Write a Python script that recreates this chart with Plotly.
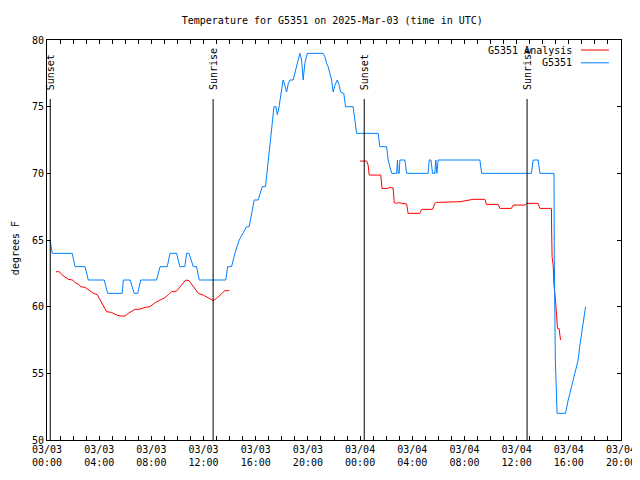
import plotly.graph_objects as go

title_text = "Temperature for G5351 on 2025-Mar-03 (time in UTC)"
y_title = "degrees F"
analysis_name = "G5351 Analysis"
obs_name = "G5351"

obs_times = [
    "2025-03-03 00:14", "2025-03-03 00:24", "2025-03-03 01:56", "2025-03-03 02:09",
    "2025-03-03 02:55", "2025-03-03 03:10", "2025-03-03 04:23", "2025-03-03 04:39",
    "2025-03-03 05:46", "2025-03-03 05:51", "2025-03-03 06:22", "2025-03-03 06:41",
    "2025-03-03 06:57", "2025-03-03 07:11", "2025-03-03 08:24", "2025-03-03 08:40",
    "2025-03-03 09:13", "2025-03-03 09:26", "2025-03-03 09:56", "2025-03-03 10:11",
    "2025-03-03 10:34", "2025-03-03 10:42", "2025-03-03 10:53", "2025-03-03 11:13",
    "2025-03-03 11:28", "2025-03-03 11:40", "2025-03-03 13:42", "2025-03-03 13:51",
    "2025-03-03 14:09", "2025-03-03 14:24", "2025-03-03 14:44", "2025-03-03 15:07",
    "2025-03-03 15:18", "2025-03-03 15:30", "2025-03-03 15:53", "2025-03-03 16:11",
    "2025-03-03 16:19", "2025-03-03 16:30", "2025-03-03 16:45", "2025-03-03 16:57",
    "2025-03-03 17:05", "2025-03-03 17:13", "2025-03-03 17:20", "2025-03-03 17:24",
    "2025-03-03 17:33", "2025-03-03 17:39", "2025-03-03 17:45", "2025-03-03 17:51",
    "2025-03-03 17:59", "2025-03-03 18:06", "2025-03-03 18:14", "2025-03-03 18:22",
    "2025-03-03 18:30", "2025-03-03 18:37", "2025-03-03 18:52", "2025-03-03 19:00",
    "2025-03-03 19:08", "2025-03-03 19:15", "2025-03-03 19:23", "2025-03-03 19:31",
    "2025-03-03 19:38", "2025-03-03 19:46", "2025-03-03 19:57", "2025-03-03 21:10",
    "2025-03-03 21:18", "2025-03-03 21:26", "2025-03-03 21:33", "2025-03-03 21:41",
    "2025-03-03 21:49", "2025-03-03 21:56", "2025-03-03 22:04", "2025-03-03 22:15",
    "2025-03-03 22:24", "2025-03-03 22:30", "2025-03-03 22:45", "2025-03-03 22:53",
    "2025-03-03 23:28", "2025-03-03 23:36", "2025-03-03 23:44", "2025-03-04 01:23",
    "2025-03-04 01:31", "2025-03-04 02:02", "2025-03-04 02:09", "2025-03-04 02:25",
    "2025-03-04 02:48", "2025-03-04 02:52", "2025-03-04 02:55", "2025-03-04 03:00",
    "2025-03-04 03:03", "2025-03-04 03:26", "2025-03-04 03:34", "2025-03-04 05:13",
    "2025-03-04 05:18", "2025-03-04 05:26", "2025-03-04 05:33", "2025-03-04 05:44",
    "2025-03-04 05:48", "2025-03-04 05:53", "2025-03-04 05:59", "2025-03-04 09:11",
    "2025-03-04 09:19", "2025-03-04 13:08", "2025-03-04 13:16", "2025-03-04 13:39",
    "2025-03-04 13:47", "2025-03-04 14:52", "2025-03-04 14:53", "2025-03-04 14:58",
    "2025-03-04 15:02", "2025-03-04 15:06", "2025-03-04 15:45", "2025-03-04 15:50",
    "2025-03-04 15:57", "2025-03-04 16:05", "2025-03-04 16:12", "2025-03-04 16:20",
    "2025-03-04 16:28", "2025-03-04 16:35", "2025-03-04 16:43", "2025-03-04 16:50",
    "2025-03-04 16:58", "2025-03-04 17:06", "2025-03-04 17:14", "2025-03-04 17:17",
]
obs_vals = [
    65, 64, 64, 63, 63, 62, 62, 61, 61, 62, 62, 61, 61, 62, 62, 63,
    63, 64, 64, 63, 63, 64, 64, 63, 63, 62, 62, 63, 63, 64, 65, 65.75,
    66, 66, 68, 68, 68.5, 69, 69, 70.75, 71.9, 73.25, 74, 75, 75, 74.4,
    74.75, 75.4, 76.1, 77, 76.6, 76.1, 76.75, 77, 77, 77.5, 78, 78.5, 79, 78.5,
    77, 78.25, 79, 79, 78.75, 78.25, 78, 77.5, 77, 76.1, 76.6, 77, 76.6, 76.1,
    76, 75, 75, 74, 73, 73, 72, 72, 71, 70, 70, 71, 70, 70,
    71, 71, 70, 70, 71, 71, 70, 70, 71, 70, 71, 71, 70, 70, 71, 71,
    70, 70, 64, 56, 53, 52, 52, 52.5, 53, 53.5, 54, 54.5, 55, 55.5, 56, 57,
    58, 58.9, 59.75, 60,
]

analysis_times = [
    "2025-03-03 00:41", "2025-03-03 00:57", "2025-03-03 01:08", "2025-03-03 01:23",
    "2025-03-03 01:38", "2025-03-03 01:58", "2025-03-03 02:09", "2025-03-03 02:24",
    "2025-03-03 02:35", "2025-03-03 02:55", "2025-03-03 03:10", "2025-03-03 03:33",
    "2025-03-03 03:51", "2025-03-03 04:04", "2025-03-03 04:19", "2025-03-03 04:34",
    "2025-03-03 04:57", "2025-03-03 05:13", "2025-03-03 05:36", "2025-03-03 05:59",
    "2025-03-03 06:14", "2025-03-03 06:29", "2025-03-03 06:45", "2025-03-03 07:08",
    "2025-03-03 07:31", "2025-03-03 07:54", "2025-03-03 08:17", "2025-03-03 08:40",
    "2025-03-03 09:02", "2025-03-03 09:18", "2025-03-03 09:33", "2025-03-03 09:56",
    "2025-03-03 10:11", "2025-03-03 10:27", "2025-03-03 10:38", "2025-03-03 10:53",
    "2025-03-03 11:13", "2025-03-03 11:36", "2025-03-03 11:59", "2025-03-03 12:22",
    "2025-03-03 12:45", "2025-03-03 13:00", "2025-03-03 13:23", "2025-03-03 13:38",
    "2025-03-03 13:58", "2025-03-03 18:00",
    "2025-03-03 23:59", "2025-03-04 00:30", "2025-03-04 00:37", "2025-03-04 00:42",
    "2025-03-04 01:35", "2025-03-04 01:41", "2025-03-04 02:09", "2025-03-04 02:14",
    "2025-03-04 02:32", "2025-03-04 02:37", "2025-03-04 02:48", "2025-03-04 02:55",
    "2025-03-04 03:34", "2025-03-04 03:41", "2025-03-04 04:35", "2025-03-04 04:43",
    "2025-03-04 05:33", "2025-03-04 05:44", "2025-03-04 05:52", "2025-03-04 07:39",
    "2025-03-04 08:40", "2025-03-04 09:34", "2025-03-04 09:41", "2025-03-04 10:35",
    "2025-03-04 10:43", "2025-03-04 11:36", "2025-03-04 11:44", "2025-03-04 12:38",
    "2025-03-04 12:46", "2025-03-04 13:39", "2025-03-04 13:47", "2025-03-04 14:40",
    "2025-03-04 14:41", "2025-03-04 14:43", "2025-03-04 14:48", "2025-03-04 14:52",
    "2025-03-04 15:00", "2025-03-04 15:03", "2025-03-04 15:08", "2025-03-04 15:15",
    "2025-03-04 15:18", "2025-03-04 15:22",
]
analysis_vals = [
    62.62, 62.62, 62.4, 62.25, 62.05, 62.0, 61.8, 61.7, 61.5, 61.45, 61.25, 61.0,
    60.9, 60.5, 60.05, 59.62, 59.57, 59.42, 59.3, 59.3, 59.5, 59.67, 59.8, 59.82,
    59.95, 60.0, 60.3, 60.5, 60.67, 60.9, 61.12, 61.17, 61.5, 61.8, 62.0, 61.95,
    61.5, 61.0, 60.87, 60.67, 60.45, 60.62, 61.0, 61.2, 61.2, None,
    70.92, 70.92, 70.62, 69.87, 69.87, 68.87, 68.87, 68.95, 68.9, 67.8, 67.75, 67.8,
    67.7, 67.0, 67.0, 67.3, 67.3, 67.75, 67.82, 67.87, 68.05, 68.05, 67.67, 67.67,
    67.37, 67.37, 67.62, 67.62, 67.75, 67.75, 67.37, 67.37, 65.75, 63.75, 63.12, 61.62,
    60.2, 59.0, 58.37, 58.37, 57.87, 57.5,
]

sun_times = ["2025-03-03 00:15", "2025-03-03 12:44", "2025-03-04 00:19", "2025-03-04 12:48"]
sun_labels = ["Sunset", "Sunrise", "Sunset", "Sunrise"]

x_range = ["2025-03-03 00:00", "2025-03-04 20:00"]
y_range = [50, 80]

FONT = "DejaVu Sans Mono"
RED = "#ff0000"
BLUE = "#0080ff"
HOUR_MS = 3600000

fig = go.Figure()
fig.add_trace(go.Scatter(x=analysis_times, y=analysis_vals, mode="lines",
                         name=analysis_name, line=dict(color=RED, width=1),
                         connectgaps=False))
fig.add_trace(go.Scatter(x=obs_times, y=obs_vals, mode="lines",
                         name=obs_name, line=dict(color=BLUE, width=1)))

shapes = []
annotations = []
for t, lab in zip(sun_times, sun_labels):
    shapes.append(dict(type="line", xref="x", yref="paper", x0=t, x1=t,
                       y0=0, y1=0.8525, line=dict(color="black", width=1),
                       layer="above"))
    annotations.append(dict(x=t, xref="x", y=0.87, yref="paper", text=lab,
                            textangle=-90, showarrow=False, xanchor="center",
                            yanchor="bottom", font=dict(family=FONT, size=10, color="black")))

# legend (gnuplot style: text right-aligned, sample on the right)
for name, col, yp in [(analysis_name, RED, 0.975), (obs_name, BLUE, 0.943)]:
    annotations.append(dict(x=0.918, xref="paper", y=yp, yref="paper", text=name,
                            showarrow=False, xanchor="right", yanchor="middle",
                            font=dict(family=FONT, size=10, color="black")))
    shapes.append(dict(type="line", xref="paper", yref="paper", x0=0.930, x1=0.979,
                       y0=yp, y1=yp, line=dict(color=col, width=1)))

# y-axis title placed as rotated text left of the tick labels
annotations.append(dict(x=-0.0555, xref="paper", y=0.48, yref="paper", text=y_title,
                        textangle=-90, showarrow=False, xanchor="center", yanchor="middle",
                        font=dict(family=FONT, size=10, color="black")))

# the page body has an 8px margin, so the figure is sized / offset to compensate
fig.update_layout(
    width=632, height=472,
    margin=dict(l=39, r=19, t=32, b=40, autoexpand=False),
    paper_bgcolor="white", plot_bgcolor="white",
    showlegend=False,
    font=dict(family=FONT, size=10, color="black"),
    title=dict(text=title_text, x=0.497, xref="paper", y=1 - 12 / 472,
               yanchor="middle", xanchor="center",
               font=dict(family=FONT, size=10, color="black")),
    shapes=shapes,
    annotations=annotations,
)
fig.update_xaxes(
    type="date", range=x_range, tick0=x_range[0], dtick=4 * HOUR_MS,
    tickformat="%m/%d<br>%H:%M", ticks="inside", ticklen=4, tickcolor="black",
    showline=True, linecolor="black", linewidth=1, mirror="allticks",
    showgrid=False, zeroline=False, automargin=False,
    minor=dict(dtick=HOUR_MS, ticks="inside", ticklen=4, tickcolor="black", showgrid=False),
    tickfont=dict(family=FONT, size=10, color="black"),
)
fig.update_yaxes(
    range=y_range, dtick=5, ticks="inside", ticklen=4, tickcolor="black",
    showline=True, linecolor="black", linewidth=1, mirror="allticks",
    showgrid=False, zeroline=False, automargin=False,
    tickfont=dict(family=FONT, size=10, color="black"),
)

fig.write_html("out.html")
